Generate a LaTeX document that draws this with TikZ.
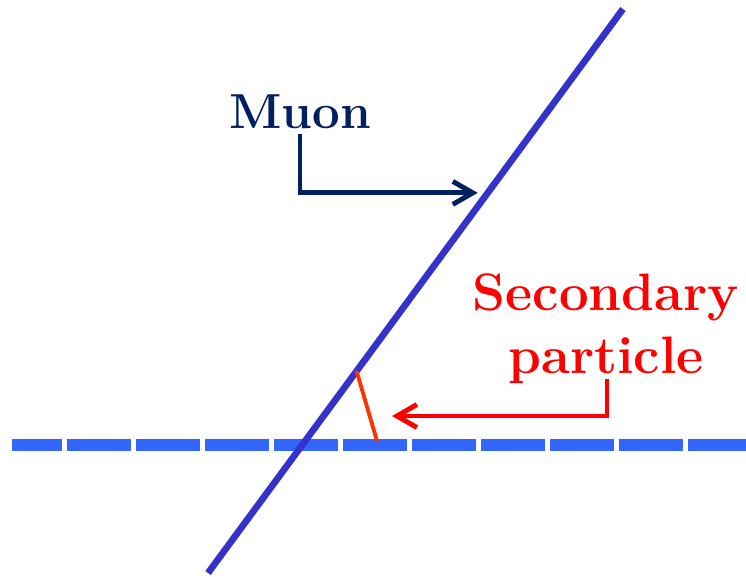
\documentclass[tikz,border=0pt]{standalone}
\usepackage{tikz}
\usetikzlibrary{arrows.meta,positioning,calc}
\definecolor{trackblue}{RGB}{51,51,204}
\definecolor{plateblue}{RGB}{51,102,255}
\definecolor{secorange}{RGB}{255,51,0}
\definecolor{muonnavy}{RGB}{0,32,96}
\definecolor{secred}{RGB}{255,0,0}

\begin{document}
\begin{tikzpicture}[
    x=0.02cm, y=-0.02cm,
    lbl/.style={font=\fontsize{28}{36}\selectfont\bfseries, inner sep=0pt, align=center},
    track/.style={line width=3.8pt, trackblue},
    plate/.style={line width=6.8pt, plateblue, dash pattern=on 1.28cm off 0.1cm, dash phase=0.28cm},
    secline/.style={line width=2.2pt, secorange},
    arr/.style={-{Straight Barb[length=4mm,width=4.6mm]}, line width=2.8pt}
]
\useasboundingbox (0,0) rectangle (746,576);

% detector plane and tracks
\coordinate (pl) at (12,445);
\coordinate (pr) at (746,445);
\coordinate (mu0) at (208,573);
\coordinate (mu1) at (623,9);
\coordinate (muhit) at ($(mu0)!0.674!(mu1)$);
\coordinate (sec0) at ($(mu0)!0.358!(mu1)$);
\coordinate (sec1) at (377,441);
\coordinate (sectip) at (392,416);

\draw[plate] (pl) -- (pr);
\draw[track] (mu0) -- (mu1);
\draw[secline] (sec0) -- (sec1);

% labels
\node[lbl, text=muonnavy, anchor=base] (muon) at (300,128) {Muon};
\node[lbl, text=secred, anchor=north, font=\fontsize{30}{36}\selectfont\bfseries] (sec) at (606,273) {Secondary\\particle};

\draw[arr, muonnavy, shorten <=0.1cm, shorten >=0.2cm] (muon.south) |- (muhit);
\draw[arr, secred] (sec.south) ++(1,-5) |- (sectip);
\end{tikzpicture}
\end{document}
